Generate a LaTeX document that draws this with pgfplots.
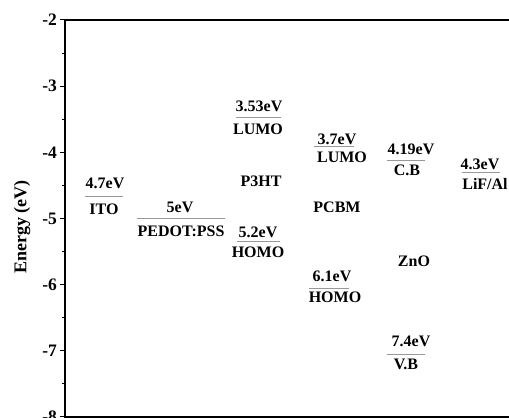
\documentclass[border=0pt]{standalone}
\usepackage{fontspec}
\setmainfont{Liberation Serif}
\usepackage{pgfplots}
\pgfplotsset{compat=1.18}
\tikzset{lbl/.style={font=\fontsize{16}{16}\selectfont\bfseries, inner sep=0pt, anchor=center},
         lvl/.style={color=black!40, line width=1pt, mark=none}}
\begin{document}
\begin{tikzpicture}
\begin{axis}[
  scale only axis, width=455pt, height=397pt,
  xmin=65, xmax=520, ymin=-8, ymax=-2,
  clip=false,
  xtick=\empty,
  ytick={-8,-7,-6,-5,-4,-3,-2},
  yticklabels={-8,-7,-6,-5,-4,-3,-2},
  minor y tick num=1,
  ytick pos=left,
  tick align=outside,
  major tick length=4.5pt,
  minor tick length=3pt,
  axis line style={line width=1.3pt},
  tick style={line width=1pt, black},
  yticklabel style={font=\fontsize{17.5}{17.5}\selectfont\bfseries},
  ylabel={Energy (eV)},
  every axis y label/.style={at={(axis cs:22,-5.13)}, rotate=90, anchor=center, font=\fontsize{18}{18}\selectfont\bfseries},
]
% energy levels (x in px, y in eV)
\addplot[lvl] coordinates {(85,-4.675) (123,-4.675)};   % ITO
\addplot[lvl] coordinates {(137,-5.007) (225,-5.007)};  % PEDOT:PSS
\addplot[lvl] coordinates {(236,-3.481) (281,-3.481)};  % P3HT LUMO
\addplot[lvl] coordinates {(237,-5.355) (280,-5.355)};  % P3HT HOMO
\addplot[lvl] coordinates {(314,-3.919) (354,-3.919)};  % PCBM LUMO
\addplot[lvl] coordinates {(309,-6.065) (349,-6.065)};  % PCBM HOMO
\addplot[lvl] coordinates {(387,-4.131) (425,-4.131)};  % ZnO CB
\addplot[lvl] coordinates {(387,-7.063) (425,-7.063)};  % ZnO VB
\addplot[lvl] coordinates {(462,-4.312) (500,-4.312)};  % LiF/Al

\node[lbl] at (axis cs:105,-4.463) {4.7eV};
\node[lbl] at (axis cs:104,-4.856) {ITO};
\node[lbl] at (axis cs:180,-4.826) {5eV};
\node[lbl] at (axis cs:181,-5.189) {PEDOT:PSS};
\node[lbl] at (axis cs:259,-3.300) {3.53eV};
\node[lbl] at (axis cs:258,-3.647) {LUMO};
\node[lbl] at (axis cs:261,-4.433) {P3HT};
\node[lbl] at (axis cs:258,-5.204) {5.2eV};
\node[lbl] at (axis cs:258,-5.506) {HOMO};
\node[lbl] at (axis cs:337,-3.798) {3.7eV};
\node[lbl] at (axis cs:342,-4.070) {LUMO};
\node[lbl] at (axis cs:337,-4.826) {PCBM};
\node[lbl] at (axis cs:332,-5.869) {6.1eV};
\node[lbl] at (axis cs:335,-6.186) {HOMO};
\node[lbl] at (axis cs:411,-3.950) {4.19eV};
\node[lbl] at (axis cs:407,-4.267) {C.B};
\node[lbl] at (axis cs:414,-5.642) {ZnO};
\node[lbl] at (axis cs:411,-6.851) {7.4eV};
\node[lbl] at (axis cs:406,-7.199) {V.B};
\node[lbl] at (axis cs:480,-4.176) {4.3eV};
\node[lbl] at (axis cs:485,-4.478) {LiF/Al};

\coordinate (bbsw) at (axis cs:0,-8.015);
\coordinate (bbne) at (axis cs:509,-1.698);
\end{axis}
\pgfresetboundingbox
\path[use as bounding box] (bbsw) rectangle (bbne);
\end{tikzpicture}
\end{document}
